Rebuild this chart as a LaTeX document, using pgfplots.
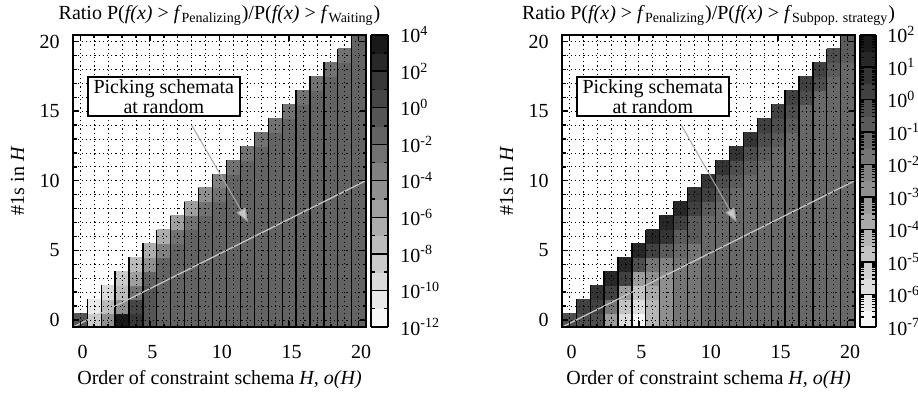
\documentclass[border=0pt]{standalone}
\usepackage{fontspec}
\setmainfont{Liberation Serif}
\usepackage{pgfplots}
\pgfplotsset{compat=1.18}
\usetikzlibrary{arrows.meta}
\usepackage{pgfplotstable}

\pgfplotstableread[row sep=\\]{x y e\\
0 0 -0.5\\
1 0 -8.5\\1 1 -10.5\\
2 0 -4.5\\2 1 -7.5\\2 2 -9.5\\
3 0 3.5\\3 1 -4.5\\3 2 -7.5\\3 3 -8.5\\
4 0 1.5\\4 1 0.5\\4 2 -2.5\\4 3 -5.5\\4 4 -7.5\\
5 0 -0.5\\5 1 -0.5\\5 2 -0.5\\5 3 -1.5\\5 4 -4.5\\5 5 -6.5\\
6 0 -1.5\\6 1 -1.5\\6 2 -1.5\\6 3 -1.5\\6 4 -1.5\\6 5 -3.5\\6 6 -6.5\\
7 0 -1.5\\7 1 -1.5\\7 2 -1.5\\7 3 -1.5\\7 4 -1.5\\7 5 -1.5\\7 6 -2.5\\7 7 -5.5\\
8 0 -1.5\\8 1 -1.5\\8 2 -1.5\\8 3 -1.5\\8 4 -1.5\\8 5 -1.5\\8 6 -1.5\\8 7 -2.5\\8 8 -5.5\\
9 0 -1.5\\9 1 -1.5\\9 2 -1.5\\9 3 -1.5\\9 4 -1.5\\9 5 -1.5\\9 6 -1.5\\9 7 -1.5\\9 8 -2.5\\9 9 -4.5\\
10 0 -1.5\\10 1 -1.5\\10 2 -1.5\\10 3 -1.5\\10 4 -1.5\\10 5 -1.5\\10 6 -1.5\\10 7 -1.5\\10 8 -1.5\\10 9 -2.5\\10 10 -3.5\\
11 0 -1.5\\11 1 -1.5\\11 2 -1.5\\11 3 -1.5\\11 4 -1.5\\11 5 -1.5\\11 6 -1.5\\11 7 -1.5\\11 8 -1.5\\11 9 -1.5\\11 10 -1.5\\11 11 -2.5\\
12 0 -1.5\\12 1 -1.5\\12 2 -1.5\\12 3 -1.5\\12 4 -1.5\\12 5 -1.5\\12 6 -1.5\\12 7 -1.5\\12 8 -1.5\\12 9 -1.5\\12 10 -1.5\\12 11 -1.5\\12 12 -2.5\\
13 0 -1.5\\13 1 -1.5\\13 2 -1.5\\13 3 -1.5\\13 4 -1.5\\13 5 -1.5\\13 6 -1.5\\13 7 -1.5\\13 8 -1.5\\13 9 -1.5\\13 10 -1.5\\13 11 -1.5\\13 12 -1.5\\13 13 -2.5\\
14 0 -1.5\\14 1 -1.5\\14 2 -1.5\\14 3 -1.5\\14 4 -1.5\\14 5 -1.5\\14 6 -1.5\\14 7 -1.5\\14 8 -1.5\\14 9 -1.5\\14 10 -1.5\\14 11 -1.5\\14 12 -1.5\\14 13 -1.5\\14 14 -2.5\\
15 0 -1.5\\15 1 -1.5\\15 2 -1.5\\15 3 -1.5\\15 4 -1.5\\15 5 -1.5\\15 6 -1.5\\15 7 -1.5\\15 8 -1.5\\15 9 -1.5\\15 10 -1.5\\15 11 -1.5\\15 12 -1.5\\15 13 -1.5\\15 14 -1.5\\15 15 -2.5\\
16 0 -1.5\\16 1 -1.5\\16 2 -1.5\\16 3 -1.5\\16 4 -1.5\\16 5 -1.5\\16 6 -1.5\\16 7 -1.5\\16 8 -1.5\\16 9 -1.5\\16 10 -1.5\\16 11 -1.5\\16 12 -1.5\\16 13 -1.5\\16 14 -1.5\\16 15 -1.5\\16 16 -2.5\\
17 0 -1.5\\17 1 -1.5\\17 2 -1.5\\17 3 -1.5\\17 4 -1.5\\17 5 -1.5\\17 6 -1.5\\17 7 -1.5\\17 8 -1.5\\17 9 -1.5\\17 10 -1.5\\17 11 -1.5\\17 12 -1.5\\17 13 -1.5\\17 14 -1.5\\17 15 -1.5\\17 16 -1.5\\17 17 -2.5\\
18 0 -1.5\\18 1 -1.5\\18 2 -1.5\\18 3 -1.5\\18 4 -1.5\\18 5 -1.5\\18 6 -1.5\\18 7 -1.5\\18 8 -1.5\\18 9 -1.5\\18 10 -1.5\\18 11 -1.5\\18 12 -1.5\\18 13 -1.5\\18 14 -1.5\\18 15 -1.5\\18 16 -1.5\\18 17 -1.5\\18 18 -2.5\\
19 0 -1.5\\19 1 -1.5\\19 2 -1.5\\19 3 -1.5\\19 4 -1.5\\19 5 -1.5\\19 6 -1.5\\19 7 -1.5\\19 8 -1.5\\19 9 -1.5\\19 10 -1.5\\19 11 -1.5\\19 12 -1.5\\19 13 -1.5\\19 14 -1.5\\19 15 -1.5\\19 16 -1.5\\19 17 -1.5\\19 18 -1.5\\19 19 -2.5\\
20 0 -1.5\\20 1 -1.5\\20 2 -1.5\\20 3 -1.5\\20 4 -1.5\\20 5 -1.5\\20 6 -1.5\\20 7 -1.5\\20 8 -1.5\\20 9 -1.5\\20 10 -1.5\\20 11 -1.5\\20 12 -1.5\\20 13 -1.5\\20 14 -1.5\\20 15 -1.5\\20 16 -1.5\\20 17 -1.5\\20 18 -1.5\\20 19 -1.5\\20 20 -1.5\\
}\lefttab

\pgfplotstableread[row sep=\\]{x y e\\
0 0 -0.25\\
1 0 -0.25\\1 1 0.25\\
2 0 -0.25\\2 1 0.25\\2 2 0.75\\
3 0 -3.25\\3 1 -1.75\\3 2 0.25\\3 3 1.25\\
4 0 -5.75\\4 1 -4.75\\4 2 -3.25\\4 3 0.25\\4 4 1.25\\
5 0 -6.75\\5 1 -5.75\\5 2 -4.75\\5 3 -3.25\\5 4 -0.25\\5 5 1.25\\
6 0 -4.25\\6 1 -4.25\\6 2 -3.75\\6 3 -2.75\\6 4 -1.75\\6 5 0.25\\6 6 1.25\\
7 0 -2.75\\7 1 -2.75\\7 2 -2.75\\7 3 -2.75\\7 4 -2.25\\7 5 -0.75\\7 6 0.75\\7 7 1.25\\
8 0 -1.75\\8 1 -1.75\\8 2 -1.75\\8 3 -1.75\\8 4 -1.75\\8 5 -1.25\\8 6 -0.75\\8 7 0.25\\8 8 1.25\\
9 0 -1.75\\9 1 -1.75\\9 2 -1.75\\9 3 -1.75\\9 4 -1.75\\9 5 -1.75\\9 6 -0.75\\9 7 -0.75\\9 8 0.25\\9 9 0.75\\
10 0 -1.25\\10 1 -1.25\\10 2 -1.25\\10 3 -1.25\\10 4 -1.25\\10 5 -1.25\\10 6 -1.25\\10 7 -1.25\\10 8 -0.75\\10 9 0.25\\10 10 0.75\\
11 0 -1.25\\11 1 -1.25\\11 2 -1.25\\11 3 -1.25\\11 4 -1.25\\11 5 -1.25\\11 6 -1.25\\11 7 -1.25\\11 8 -1.25\\11 9 -0.75\\11 10 -0.25\\11 11 0.75\\
12 0 -1.25\\12 1 -1.25\\12 2 -1.25\\12 3 -1.25\\12 4 -1.25\\12 5 -1.25\\12 6 -1.25\\12 7 -1.25\\12 8 -1.25\\12 9 -1.25\\12 10 -0.75\\12 11 -0.25\\12 12 0.75\\
13 0 -1.25\\13 1 -1.25\\13 2 -1.25\\13 3 -1.25\\13 4 -1.25\\13 5 -1.25\\13 6 -1.25\\13 7 -1.25\\13 8 -1.25\\13 9 -1.25\\13 10 -1.25\\13 11 -0.75\\13 12 -0.25\\13 13 0.75\\
14 0 -1.25\\14 1 -1.25\\14 2 -1.25\\14 3 -1.25\\14 4 -1.25\\14 5 -1.25\\14 6 -1.25\\14 7 -1.25\\14 8 -1.25\\14 9 -1.25\\14 10 -1.25\\14 11 -1.25\\14 12 -0.75\\14 13 -0.25\\14 14 0.25\\
15 0 -1.25\\15 1 -1.25\\15 2 -1.25\\15 3 -1.25\\15 4 -1.25\\15 5 -1.25\\15 6 -1.25\\15 7 -1.25\\15 8 -1.25\\15 9 -1.25\\15 10 -1.25\\15 11 -1.25\\15 12 -1.25\\15 13 -0.75\\15 14 -0.25\\15 15 0.25\\
16 0 -1.25\\16 1 -1.25\\16 2 -1.25\\16 3 -1.25\\16 4 -1.25\\16 5 -1.25\\16 6 -1.25\\16 7 -1.25\\16 8 -1.25\\16 9 -1.25\\16 10 -1.25\\16 11 -1.25\\16 12 -1.25\\16 13 -1.25\\16 14 -0.75\\16 15 -0.25\\16 16 0.25\\
17 0 -1.25\\17 1 -1.25\\17 2 -1.25\\17 3 -1.25\\17 4 -1.25\\17 5 -1.25\\17 6 -1.25\\17 7 -1.25\\17 8 -1.25\\17 9 -1.25\\17 10 -1.25\\17 11 -1.25\\17 12 -1.25\\17 13 -1.25\\17 14 -1.25\\17 15 -1.25\\17 16 -0.25\\17 17 0.25\\
18 0 -1.25\\18 1 -1.25\\18 2 -1.25\\18 3 -1.25\\18 4 -1.25\\18 5 -1.25\\18 6 -1.25\\18 7 -1.25\\18 8 -1.25\\18 9 -1.25\\18 10 -1.25\\18 11 -1.25\\18 12 -1.25\\18 13 -1.25\\18 14 -1.25\\18 15 -1.25\\18 16 -1.25\\18 17 -0.25\\18 18 0.25\\
19 0 -1.25\\19 1 -1.25\\19 2 -1.25\\19 3 -1.25\\19 4 -1.25\\19 5 -1.25\\19 6 -1.25\\19 7 -1.25\\19 8 -1.25\\19 9 -1.25\\19 10 -1.25\\19 11 -1.25\\19 12 -1.25\\19 13 -1.25\\19 14 -1.25\\19 15 -1.25\\19 16 -1.25\\19 17 -1.25\\19 18 -0.75\\19 19 -0.25\\
20 0 -1.25\\20 1 -1.25\\20 2 -1.25\\20 3 -1.25\\20 4 -1.25\\20 5 -1.25\\20 6 -1.25\\20 7 -1.25\\20 8 -1.25\\20 9 -1.25\\20 10 -1.25\\20 11 -1.25\\20 12 -1.25\\20 13 -1.25\\20 14 -1.25\\20 15 -1.25\\20 16 -1.25\\20 17 -1.25\\20 18 -1.25\\20 19 -0.75\\20 20 -0.75\\
}\righttab

\pgfplotsset{
  every axis/.append style={font=\fontsize{10}{12}\selectfont},
  heat/.style={
    set layers, axis on top,
    clip mode=individual,
    anchor=south west,
    x=6.962pt, y=6.962pt,
    xmin=-0.5, xmax=20.5, ymin=-0.5, ymax=20.5,
    xtick={0,5,...,20}, ytick={0,5,...,20},
    minor xtick={0,...,20}, minor ytick={0,...,20},
    grid=both,
    major grid style={black, line width=0.45pt, dash pattern=on 0.6pt off 1.5pt},
    minor grid style={black, line width=0.45pt, dash pattern=on 0.6pt off 1.5pt},
    tick align=inside, xtick pos=both, ytick pos=both,
    major tick length=3pt, minor tick length=1.6pt,
    tick style={black, line width=0.7pt},
    axis line style={black, line width=1pt},
    /pgf/number format/assume math mode=true,
    xticklabel style={anchor=center, yshift=-12.5pt, xshift=1.2pt},
    yticklabel style={xshift=-3.3pt},
    xlabel={Order of constraint schema \textit{H, o(H)}},
    ylabel={\#1s in \textit{H}},
    xlabel style={at={(axis description cs:0.5,-0.1813)}, anchor=center},
    ylabel style={at={(axis description cs:-0.1908,0.5)}, anchor=center},
    every axis title shift=0pt,
    title style={at={(axis description cs:0.5,1)}, anchor=south, yshift=1.2pt},
    colormap access=piecewise constant,
    colorbar,
  },
  heatcells/.style={scatter, only marks, mark=square*, mark size=3.481pt,
    point meta=\thisrow{e},
    scatter/use mapped color={draw=mapped color, fill=mapped color},
    mark options={line width=0.3pt}},
  cbar/.style={
    at={(parent axis.north east)}, anchor=north west,
    scale only axis, height=146.2pt,
    ytick pos=both, yticklabel pos=right,
    tick align=inside,
    major tick length=4.3pt, minor tick length=2pt,
    tick style={black, line width=0.7pt},
    axis line style={black, line width=1pt},
    yticklabel style={anchor=west, font=\fontsize{10}{12}\selectfont},
  },
}

\begin{document}
\begin{tikzpicture}

% ---------- left panel ----------
\begin{axis}[heat,
  at={(36.65pt,32.5pt)},
  title={Ratio P(\textit{f(x)} > \textit{f}\textsubscript{Penalizing})/P(\textit{f(x)} > \textit{f}\textsubscript{Waiting})},
  colormap={leftcm}{gray(0cm)=(0.97); gray(1cm)=(0.912); gray(2cm)=(0.854); gray(3cm)=(0.796); gray(4cm)=(0.738); gray(5cm)=(0.68); gray(6cm)=(0.622); gray(7cm)=(0.564); gray(8cm)=(0.506); gray(9cm)=(0.448); gray(10cm)=(0.39); gray(11cm)=(0.332); gray(12cm)=(0.274); gray(13cm)=(0.216); gray(14cm)=(0.158); gray(15cm)=(0.10); gray(16cm)=(0.10)},
  point meta min=-12, point meta max=4,
  colorbar style={cbar, xshift=-6.04pt, width=8.5pt,
    ytick={-12,-10,...,4},
    yticklabels={10\textsuperscript{-12},10\textsuperscript{-10},10\textsuperscript{-8},10\textsuperscript{-6},10\textsuperscript{-4},10\textsuperscript{-2},10\textsuperscript{0},10\textsuperscript{2},10\textsuperscript{4}},
    minor ytick={-11,-9,...,3},
    yticklabel style={xshift=2.8pt}},
]
\addplot[heatcells] table {\lefttab};
\addplot[black, line width=0.6pt, unbounded coords=jump, point meta=none] coordinates {
(0.5,-0.5) (0.5,1.5) (nan,nan) (1.5,-0.5) (1.5,2.5) (nan,nan) (2.5,-0.5) (2.5,3.5) (nan,nan)
(3.5,-0.5) (3.5,4.5) (nan,nan) (4.5,-0.5) (4.5,5.5) (nan,nan) (5.5,-0.5) (5.5,6.5) (nan,nan)
(6.5,-0.5) (6.5,7.5) (nan,nan) (7.5,-0.5) (7.5,8.5) (nan,nan) (8.5,-0.5) (8.5,9.5) (nan,nan)
(9.5,-0.5) (9.5,10.5) (nan,nan) (10.5,-0.5) (10.5,11.5) (nan,nan) (11.5,-0.5) (11.5,12.5) (nan,nan)
(12.5,-0.5) (12.5,13.5) (nan,nan) (13.5,-0.5) (13.5,14.5) (nan,nan) (14.5,-0.5) (14.5,15.5) (nan,nan)
(15.5,-0.5) (15.5,16.5) (nan,nan) (16.5,-0.5) (16.5,17.5) (nan,nan) (17.5,-0.5) (17.5,18.5) (nan,nan)
(18.5,-0.5) (18.5,19.5) (nan,nan) (19.5,-0.5) (19.5,20.5)};
\addplot[color=black!22, line width=0.6pt, point meta=none] coordinates {(-0.5,-0.5) (20.5,10)};
\begin{pgfonlayer}{axis foreground}
\draw[color=black!35, line width=0.5pt, -{Triangle[length=7pt,width=5pt,fill=black!22]}] (axis cs:8,14) -- (axis cs:12.05,7.03);
\node[draw=black, line width=1pt, fill=white, align=center, inner xsep=3pt, inner ysep=1.5pt, font=\fontsize{10}{9.7}\selectfont] at (axis cs:6,16.05) {Picking schemata\\at random};
\end{pgfonlayer}
\end{axis}

% ---------- right panel ----------
\begin{axis}[heat,
  at={(281.15pt,32.5pt)},
  title={Ratio P(\textit{f(x)} > \textit{f}\textsubscript{Penalizing})/P(\textit{f(x)} > \textit{f}\textsubscript{Subpop. strategy})},
  colormap={rightcm}{gray(0cm)=(0.97); gray(1cm)=(0.919); gray(2cm)=(0.868); gray(3cm)=(0.816); gray(4cm)=(0.765); gray(5cm)=(0.714); gray(6cm)=(0.663); gray(7cm)=(0.612); gray(8cm)=(0.560); gray(9cm)=(0.509); gray(10cm)=(0.458); gray(11cm)=(0.407); gray(12cm)=(0.356); gray(13cm)=(0.304); gray(14cm)=(0.253); gray(15cm)=(0.202); gray(16cm)=(0.151); gray(17cm)=(0.10); gray(18cm)=(0.10)},
  point meta min=-7, point meta max=2,
  colorbar style={cbar, xshift=-5.89pt, width=8.15pt,
    ytick={-7,...,2},
    yticklabels={10\textsuperscript{-7},10\textsuperscript{-6},10\textsuperscript{-5},10\textsuperscript{-4},10\textsuperscript{-3},10\textsuperscript{-2},10\textsuperscript{-1},10\textsuperscript{0},10\textsuperscript{1},10\textsuperscript{2}},
    minor ytick={-6.699,-6.523,-6.398,-6.301,-6.222,-6.155,-6.097,-6.046,
      -5.699,-5.523,-5.398,-5.301,-5.222,-5.155,-5.097,-5.046,
      -4.699,-4.523,-4.398,-4.301,-4.222,-4.155,-4.097,-4.046,
      -3.699,-3.523,-3.398,-3.301,-3.222,-3.155,-3.097,-3.046,
      -2.699,-2.523,-2.398,-2.301,-2.222,-2.155,-2.097,-2.046,
      -1.699,-1.523,-1.398,-1.301,-1.222,-1.155,-1.097,-1.046,
      -0.699,-0.523,-0.398,-0.301,-0.222,-0.155,-0.097,-0.046,
      0.301,0.477,0.602,0.699,0.778,0.845,0.903,0.954,
      1.301,1.477,1.602,1.699,1.778,1.845,1.903,1.954},
    yticklabel style={xshift=2pt}},
]
\addplot[heatcells] table {\righttab};
\addplot[black, line width=0.6pt, unbounded coords=jump, point meta=none] coordinates {
(0.5,-0.5) (0.5,1.5) (nan,nan) (1.5,-0.5) (1.5,2.5) (nan,nan) (2.5,-0.5) (2.5,3.5) (nan,nan)
(3.5,-0.5) (3.5,4.5) (nan,nan) (4.5,-0.5) (4.5,5.5) (nan,nan) (5.5,-0.5) (5.5,6.5) (nan,nan)
(6.5,-0.5) (6.5,7.5) (nan,nan) (7.5,-0.5) (7.5,8.5) (nan,nan) (8.5,-0.5) (8.5,9.5) (nan,nan)
(9.5,-0.5) (9.5,10.5) (nan,nan) (10.5,-0.5) (10.5,11.5) (nan,nan) (11.5,-0.5) (11.5,12.5) (nan,nan)
(12.5,-0.5) (12.5,13.5) (nan,nan) (13.5,-0.5) (13.5,14.5) (nan,nan) (14.5,-0.5) (14.5,15.5) (nan,nan)
(15.5,-0.5) (15.5,16.5) (nan,nan) (16.5,-0.5) (16.5,17.5) (nan,nan) (17.5,-0.5) (17.5,18.5) (nan,nan)
(18.5,-0.5) (18.5,19.5) (nan,nan) (19.5,-0.5) (19.5,20.5)};
\addplot[color=black!22, line width=0.6pt, point meta=none] coordinates {(-0.5,-0.5) (20.5,10)};
\begin{pgfonlayer}{axis foreground}
\draw[color=black!35, line width=0.5pt, -{Triangle[length=7pt,width=5pt,fill=black!22]}] (axis cs:8.05,14) -- (axis cs:12.03,7.03);
\node[draw=black, line width=1pt, fill=white, align=center, inner xsep=3pt, inner ysep=1.5pt, font=\fontsize{10}{9.7}\selectfont] at (axis cs:6,16.05) {Picking schemata\\at random};
\end{pgfonlayer}
\end{axis}
\pgfresetboundingbox
\path[use as bounding box] (0,0) rectangle (459pt,196pt);
\end{tikzpicture}
\end{document}
